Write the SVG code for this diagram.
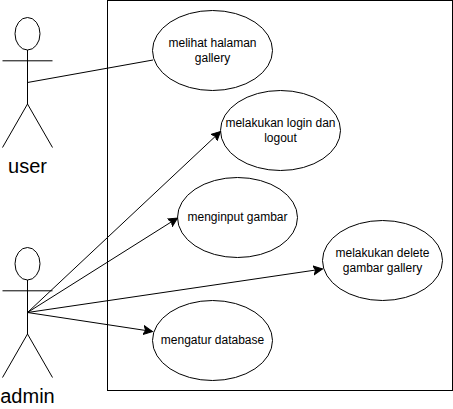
<svg xmlns="http://www.w3.org/2000/svg" width="453" height="409" viewBox="0 0 453 409">
<style>
.s{fill:none;stroke:#000;stroke-width:1}
.e{fill:#fff;stroke:#000;stroke-width:1}
.t{font-family:"Liberation Sans",Arial,sans-serif;font-size:12px;fill:#000;text-anchor:middle}
.a{font-family:"Liberation Sans",Arial,sans-serif;font-size:20px;fill:#000;text-anchor:middle}
</style>
<defs>
<marker id="arrow" markerUnits="userSpaceOnUse" markerWidth="12" markerHeight="12" refX="9" refY="5" orient="auto" viewBox="0 0 12 10">
<path d="M0 0.5L9 5L0 9.5L2 5Z" fill="#000" stroke="#000" stroke-width="1"/>
</marker>
</defs>
<rect width="453" height="409" fill="#fff"/>
<rect id="boundary" class="s" x="107.5" y="0.5" width="345" height="390"/>
<g id="use-melihat"><ellipse class="e" cx="212.5" cy="50.5" rx="60" ry="40"/><text class="t" x="212.5" y="47">melihat halaman</text><text class="t" x="212.5" y="62">gallery</text></g>
<g id="use-login"><ellipse class="e" cx="280.5" cy="130.5" rx="60" ry="40"/><text class="t" x="280.5" y="127">melakukan login dan</text><text class="t" x="280.5" y="142">logout</text></g>
<g id="use-input"><ellipse class="e" cx="237.5" cy="217.5" rx="60" ry="40"/><text class="t" x="237.5" y="221">menginput gambar</text></g>
<g id="use-delete"><ellipse class="e" cx="382.5" cy="260.5" rx="60" ry="40"/><text class="t" x="382.5" y="257">melakukan delete</text><text class="t" x="382.5" y="272">gambar gallery</text></g>
<g id="use-database"><ellipse class="e" cx="212.5" cy="340.5" rx="60" ry="40"/><text class="t" x="212.5" y="344">mengatur database</text></g>
<g id="actor-user">
<ellipse class="s" cx="27.5" cy="33.75" rx="12.5" ry="16.25"/>
<path class="s" d="M27.5 50V104M2.5 60.8H52.5M2.5 147.5L27.5 104L52.5 147.5"/>
<text class="a" x="27.5" y="173">user</text>
</g>
<g id="actor-admin">
<ellipse class="s" cx="27.5" cy="263.75" rx="12.5" ry="16.25"/>
<path class="s" d="M27.5 280V334M2.5 290.8H52.5M2.5 377.5L27.5 334L52.5 377.5"/>
<text class="a" x="27.5" y="403">admin</text>
</g>
<g id="connectors">
<path class="s" d="M27.5 82.5L153 60"/>
<path class="s" marker-end="url(#arrow)" d="M27.5 312.5L220.5 131.5"/>
<path class="s" marker-end="url(#arrow)" d="M27.5 312.5L177.5 218"/>
<path class="s" marker-end="url(#arrow)" d="M27.5 312.5L322.5 269"/>
<path class="s" marker-end="url(#arrow)" d="M27.5 312.5L152.5 331.5"/>
</g>
</svg>
